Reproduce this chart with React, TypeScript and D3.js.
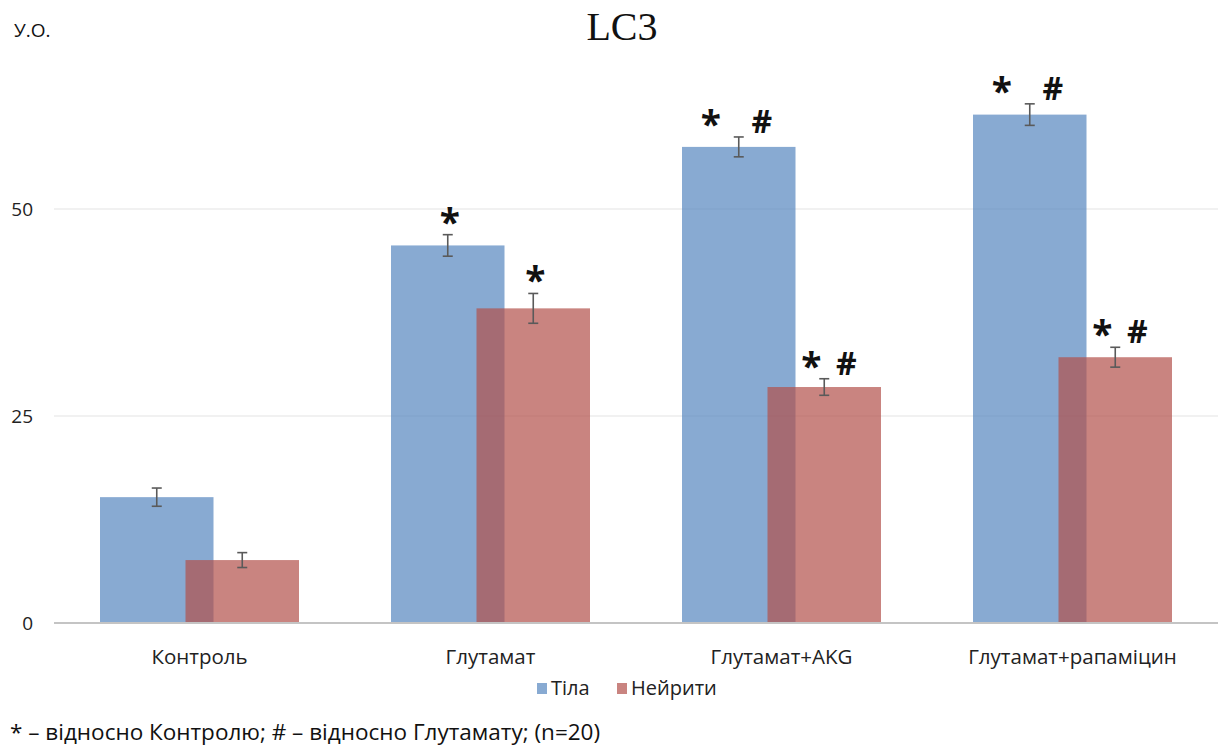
import { useEffect, useRef } from "react";
import * as d3 from "d3";

const categories = ["Контроль", "Глутамат", "Глутамат+AKG", "Глутамат+рапаміцин"];
const seriesNames = ["Тіла", "Нейрити"];
const bodyValues = [15.2, 45.6, 57.5, 61.4];
const bodyErrors = [1.1, 1.3, 1.2, 1.3];
const neuriteValues = [7.6, 38.0, 28.5, 32.1];
const neuriteErrors = [0.9, 1.8, 1.0, 1.2];
// significance marks above each bar
const bodyMarks = ["", "*", "*#", "*#"];
const neuriteMarks = ["", "*", "*#", "*#"];
const yTicks = [0, 25, 50];
const footnote = "* – відносно Контролю; # – відносно Глутамату; (n=20)";

const W = 1225, H = 751;
const sans = "'Open Sans', 'Liberation Sans', sans-serif";

const App = () => {
  const ref = useRef<SVGSVGElement>(null);

  useEffect(() => {
    document.body.style.margin = "0";
    const svg = d3.select(ref.current);
    svg.selectAll("*").remove();

    const x = d3.scaleBand().domain(categories).range([54, 1218]).paddingInner(0).paddingOuter(0);
    const y = d3.scaleLinear().domain([0, 75]).range([623, 2]);
    const barW = 113.5;
    const shift = 42.75; // offset of each bar centre from the band centre (bars overlap)

    // gridlines
    svg.append("g")
      .selectAll("line")
      .data(yTicks.filter(d => d > 0))
      .join("line")
      .attr("x1", 54).attr("x2", 1218)
      .attr("y1", d => y(d)).attr("y2", d => y(d))
      .attr("stroke", "#ececec").attr("stroke-width", 1.5);

    // y tick labels
    svg.append("g")
      .selectAll("text")
      .data(yTicks)
      .join("text")
      .attr("x", 33).attr("y", d => y(d))
      .attr("dy", "0.35em")
      .attr("text-anchor", "end")
      .attr("font-family", sans).attr("font-size", 19).attr("fill", "#222")
      .text(d => d);

    const series = [
      { name: seriesNames[0], values: bodyValues, errors: bodyErrors, marks: bodyMarks, color: "#4f81bd", opacity: 0.68, dx: -shift },
      { name: seriesNames[1], values: neuriteValues, errors: neuriteErrors, marks: neuriteMarks, color: "#b2504a", opacity: 0.7, dx: shift },
    ];

    series.forEach(s => {
      const g = svg.append("g");
      const cx = (i: number) => x(categories[i])! + x.bandwidth() / 2 + s.dx;
      g.selectAll("rect")
        .data(s.values)
        .join("rect")
        .attr("x", (d, i) => cx(i) - barW / 2)
        .attr("y", d => y(d))
        .attr("width", barW)
        .attr("height", d => y(0) - y(d))
        .attr("fill", s.color)
        .attr("fill-opacity", s.opacity);
    });

    // error bars on top of both series
    series.forEach(s => {
      const g = svg.append("g").attr("stroke", "#5a5a5a").attr("stroke-width", 1.6);
      s.values.forEach((v, i) => {
        const cx = x(categories[i])! + x.bandwidth() / 2 + s.dx;
        const e = s.errors[i];
        g.append("line").attr("x1", cx).attr("x2", cx).attr("y1", y(v + e)).attr("y2", y(v - e));
        g.append("line").attr("x1", cx - 5).attr("x2", cx + 5).attr("y1", y(v + e)).attr("y2", y(v + e));
        g.append("line").attr("x1", cx - 5).attr("x2", cx + 5).attr("y1", y(v - e)).attr("y2", y(v - e));
      });
    });

    // significance marks
    series.forEach((s, si) => {
      s.marks.forEach((m, i) => {
        if (!m) return;
        const cx = x(categories[i])! + x.bandwidth() / 2 + s.dx;
        const top = y(s.values[i] + s.errors[i]);
        const single = m.length === 1;
        const offsets = single ? [2] : si === 0 ? [-28, 23] : [-13, 22];
        m.split("").forEach((ch, k) => {
          svg.append("text")
            .attr("x", cx + offsets[k])
            .attr("y", ch === "*" ? top + 1 : top - 4)
            .attr("text-anchor", "middle")
            .attr("font-family", sans)
            .attr("font-weight", "bold")
            .attr("font-size", ch === "*" ? 37 : 32)
            .attr("fill", "#111")
            .text(ch);
        });
      });
    });

    // baseline
    svg.append("line")
      .attr("x1", 54).attr("x2", 1218)
      .attr("y1", y(0)).attr("y2", y(0))
      .attr("stroke", "#c4c4c4").attr("stroke-width", 2);

    // category labels
    svg.append("g")
      .selectAll("text")
      .data(categories)
      .join("text")
      .attr("x", d => x(d)! + x.bandwidth() / 2)
      .attr("y", 664)
      .attr("text-anchor", "middle")
      .attr("font-family", sans).attr("font-size", 20.5).attr("fill", "#222")
      .text(d => d);

    // legend
    const legend = svg.append("g");
    const lx = [537, 617];
    series.forEach((s, i) => {
      legend.append("rect")
        .attr("x", lx[i]).attr("y", 683).attr("width", 10).attr("height", 11)
        .attr("fill", s.color).attr("fill-opacity", s.opacity);
      legend.append("text")
        .attr("x", lx[i] + 14).attr("y", 695)
        .attr("font-family", sans).attr("font-size", 20).attr("fill", "#222")
        .text(s.name);
    });

    // title, unit, footnote
    svg.append("text")
      .attr("x", 622).attr("y", 40)
      .attr("text-anchor", "middle")
      .attr("font-family", "'Liberation Serif', 'DejaVu Serif', serif")
      .attr("font-size", 40).attr("fill", "#111")
      .text("LC3");

    svg.append("text")
      .attr("x", 14).attr("y", 37)
      .attr("font-family", sans).attr("font-size", 19).attr("fill", "#111")
      .text("У.О.");

    svg.append("text")
      .attr("x", 10).attr("y", 740)
      .attr("font-family", sans).attr("font-size", 22.5).attr("fill", "#111")
      .text(footnote);
  }, []);

  return <svg ref={ref} width={W} height={H} style={{ display: "block", background: "#fff" }} />;
};

export default App;
